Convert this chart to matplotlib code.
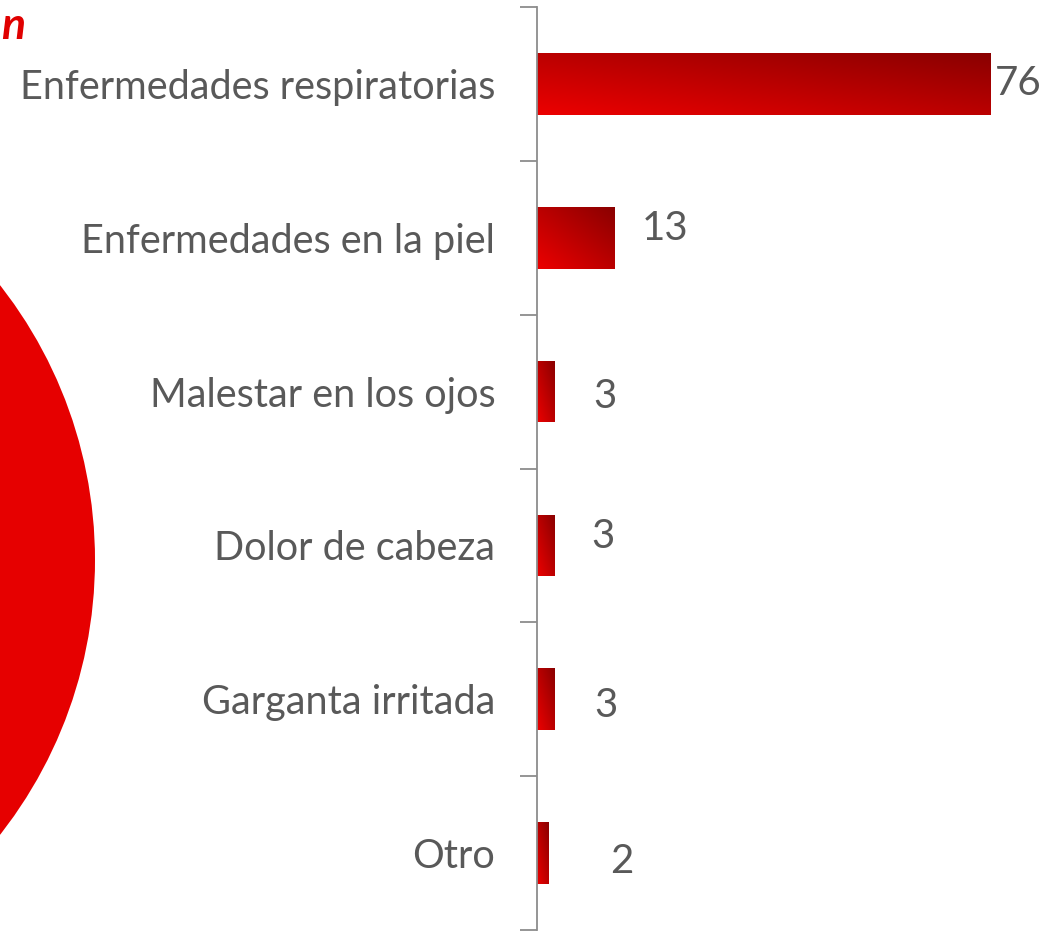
import matplotlib.pyplot as plt
import numpy as np
from matplotlib.colors import LinearSegmentedColormap
from matplotlib.patches import Circle

# 数据
categories = ["Enfermedades respiratorias", "Enfermedades en la piel",
              "Malestar en los ojos", "Dolor de cabeza",
              "Garganta irritada", "Otro"]
values = [76, 13, 3, 3, 3, 2]
# 数值标签的偏移 (像素)
label_dx = [5, 27, 38, 36, 39, 61]
label_dy = [0, 9, -5, 9, -6, -8]

plt.rcParams['font.family'] = ['Lato', 'DejaVu Sans']
grey = '#595959'
axis_grey = '#8c8c8c'

fig = plt.figure(figsize=(10.46, 9.31), dpi=100)
W, H = 1046, 931

# 左侧被裁切的大圆 (饼图的一部分)
circ = Circle((-350 / 100, (H - 560) / 100), 445 / 100,
              transform=fig.dpi_scale_trans,
              facecolor='#e60000', edgecolor='none')
fig.patches.append(circ)

# 被裁切的标题末尾
fig.text(1 / W, 1 - 26 / H, "n", color='#e00000', fontsize=32,
         fontweight='bold', fontstyle='italic', ha='left', va='center')

ax = fig.add_axes([537 / W, 1 / H, (1014 - 537) / W, 923 / H])
ax.set_facecolor('none')

# 渐变: 左下亮红 -> 右上暗红
cmap = LinearSegmentedColormap.from_list('redgrad', ['#ec0000', '#8a0000'])
uu, vv = np.meshgrid(np.linspace(0, 1, 200), np.linspace(0, 1, 50))
grad = (uu + vv) / 2

y = np.arange(len(categories))
bar_h = 0.40
bars = ax.barh(y, values, height=bar_h, color='none', edgecolor='none')
for rect in bars:
    x0, y0 = rect.get_x(), rect.get_y()
    w, h = rect.get_width(), rect.get_height()
    im = ax.imshow(grad, cmap=cmap, extent=(x0, x0 + w, y0 + h, y0),
                   origin='lower', aspect='auto', vmin=0, vmax=1, zorder=2)
    im.set_clip_path(rect)

for i, v in enumerate(values):
    ax.annotate(f"{v}", (v, i), xytext=(label_dx[i], label_dy[i]),
                textcoords='offset pixels', ha='left', va='center',
                fontsize=29, color=grey)

ax.set_xlim(0, 80)
ax.set_ylim(len(categories) - 0.5, -0.5)
ax.set_yticks(y)
ax.set_yticklabels(categories, fontsize=28.5, color=grey)
ax.set_yticks(np.arange(-0.5, len(categories)), minor=True)
ax.tick_params(axis='y', which='major', length=0, pad=30)
ax.tick_params(axis='y', which='minor', length=12, width=1.3, color=axis_grey)
ax.set_xticks([])
for s in ['top', 'right', 'bottom']:
    ax.spines[s].set_visible(False)
ax.spines['left'].set_color(axis_grey)
ax.spines['left'].set_linewidth(1.3)

fig.savefig("out.png", dpi=100)
